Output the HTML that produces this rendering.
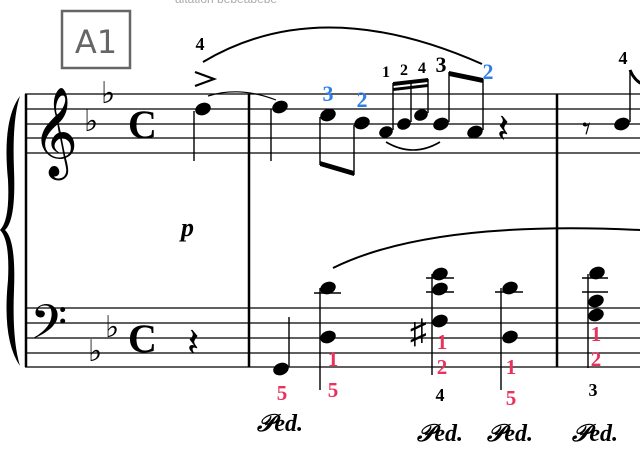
<!DOCTYPE html>
<html><head><style>body{margin:0;background:#fff}svg{display:block}</style></head><body>
<svg width="640" height="461" viewBox="0 0 640 461" xmlns="http://www.w3.org/2000/svg" font-family="Liberation Serif, serif">
<rect width="640" height="461" fill="#fff"/>
<text x="175" y="3" font-size="12" fill="#aaa" font-family="Liberation Sans, sans-serif">altation bebeabebe</text>
<rect x="62" y="11" width="68" height="57" fill="none" stroke="#666" stroke-width="2.5"/>
<text x="96" y="53" font-size="32" fill="#666" text-anchor="middle" font-family="DejaVu Sans, sans-serif">A1</text>
<g stroke="#000" stroke-width="1.3">
<line x1="25" y1="94" x2="640" y2="94"/><line x1="25" y1="109" x2="640" y2="109"/><line x1="25" y1="124" x2="640" y2="124"/><line x1="25" y1="138" x2="640" y2="138"/><line x1="25" y1="153" x2="640" y2="153"/>
<line x1="25" y1="308" x2="640" y2="308"/><line x1="25" y1="323" x2="640" y2="323"/><line x1="25" y1="338" x2="640" y2="338"/><line x1="25" y1="353" x2="640" y2="353"/><line x1="25" y1="367" x2="640" y2="367"/>
</g>
<g stroke="#000" stroke-width="2.5"><line x1="26" y1="94" x2="26" y2="367"/><line x1="249" y1="94" x2="249" y2="367"/><line x1="557" y1="94" x2="557" y2="367"/></g>
<path d="M20 96 Q2 120 8 180 Q10 220 0 230 Q10 240 8 280 Q2 340 20 366 Q12 340 14 290 Q16 240 5 230 Q16 220 14 170 Q12 120 20 96Z" fill="#000"/>
<text x="32" y="158" font-size="78">𝄞</text>
<text x="30" y="348" font-size="58">𝄢</text>
<g font-size="30"><text x="84" y="131">♭</text><text x="101" y="103">♭</text><text x="88" y="361">♭</text><text x="105" y="337">♭</text></g>
<g font-size="40" font-weight="bold"><text x="128" y="138">C</text><text x="128" y="352">C</text></g>
<g fill="#000">
<ellipse cx="203" cy="109" rx="8" ry="6" transform="rotate(-22 203 109)"/>
<ellipse cx="280" cy="107" rx="8" ry="6" transform="rotate(-22 280 107)"/>
<ellipse cx="328" cy="115" rx="8" ry="6" transform="rotate(-22 328 115)"/>
<ellipse cx="362" cy="123" rx="8" ry="6" transform="rotate(-22 362 123)"/>
<ellipse cx="386" cy="132" rx="7" ry="5.5" transform="rotate(-22 386 132)"/>
<ellipse cx="404" cy="124" rx="7" ry="5.5" transform="rotate(-22 404 124)"/>
<ellipse cx="421" cy="115" rx="7" ry="5.5" transform="rotate(-22 421 115)"/>
<ellipse cx="441" cy="124" rx="8" ry="6" transform="rotate(-22 441 124)"/>
<ellipse cx="475" cy="132" rx="8" ry="6" transform="rotate(-22 475 132)"/>
<ellipse cx="622" cy="124" rx="8" ry="6" transform="rotate(-22 622 124)"/>
<ellipse cx="281" cy="369" rx="8" ry="6" transform="rotate(-22 281 369)"/>
<ellipse cx="328" cy="337" rx="8" ry="6" transform="rotate(-22 328 337)"/>
<ellipse cx="328" cy="288" rx="8" ry="6" transform="rotate(-22 328 288)"/>
<ellipse cx="440" cy="274" rx="8" ry="6" transform="rotate(-22 440 274)"/>
<ellipse cx="440" cy="289" rx="8" ry="6" transform="rotate(-22 440 289)"/>
<ellipse cx="440" cy="321" rx="8" ry="6" transform="rotate(-22 440 321)"/>
<ellipse cx="510" cy="288" rx="8" ry="6" transform="rotate(-22 510 288)"/>
<ellipse cx="510" cy="337" rx="8" ry="6" transform="rotate(-22 510 337)"/>
<ellipse cx="597" cy="273" rx="8" ry="6" transform="rotate(-22 597 273)"/>
<ellipse cx="596" cy="301" rx="8" ry="6" transform="rotate(-22 596 301)"/>
<ellipse cx="596" cy="315" rx="8" ry="6" transform="rotate(-22 596 315)"/>
</g>
<g stroke="#000" stroke-width="1.4">
<line x1="194" y1="111" x2="194" y2="161"/><line x1="271" y1="109" x2="271" y2="161"/>
<line x1="320" y1="117" x2="320" y2="165"/><line x1="354" y1="125" x2="354" y2="175"/>
<line x1="393" y1="130" x2="393" y2="83"/><line x1="411" y1="122" x2="411" y2="81"/><line x1="428" y1="113" x2="428" y2="79"/>
<line x1="449" y1="122" x2="449" y2="72"/><line x1="483" y1="130" x2="483" y2="79"/>
<line x1="630" y1="122" x2="630" y2="70"/>
<line x1="289" y1="367" x2="289" y2="317"/>
<line x1="320" y1="288" x2="320" y2="390"/><line x1="432" y1="274" x2="432" y2="375"/><line x1="501" y1="288" x2="501" y2="390"/><line x1="588" y1="274" x2="588" y2="368"/>
<line x1="314" y1="293" x2="341" y2="293"/><line x1="426" y1="278" x2="454" y2="278"/><line x1="426" y1="292" x2="454" y2="292"/><line x1="495" y1="292" x2="523" y2="292"/><line x1="582" y1="278" x2="608" y2="278"/><line x1="582" y1="292" x2="608" y2="292"/>
</g>
<g fill="#000">
<polygon points="320,161 354,171 354,176 320,166"/>
<polygon points="393,82 428,78 428,82 393,86"/><polygon points="393,88 428,84 428,87 393,91"/>
<polygon points="449,71 483,78 483,83 449,76"/>
</g>
<path d="M630 70 Q634 80 642 84" stroke="#000" stroke-width="3" fill="none"/>
<path d="M203 62 Q320 -8 482 64" stroke="#000" stroke-width="2" fill="none"/>
<path d="M208 96 Q240 86 276 100" stroke="#000" stroke-width="1.2" fill="none"/>
<path d="M386 142 Q413 158 440 142" stroke="#000" stroke-width="1.6" fill="none"/>
<path d="M333 268 Q430 220 640 230" stroke="#000" stroke-width="2" fill="none"/>
<path d="M195 72 L214 79 L195 86" stroke="#000" stroke-width="2.2" fill="none"/>
<text x="497" y="142" font-size="40">𝄽</text><text x="187" y="356" font-size="40">𝄽</text>
<text x="582" y="140" font-size="34">𝄾</text>
<text x="410" y="343" font-size="34">♯</text>
<text x="181" y="236" font-size="26" font-weight="bold" font-style="italic">p</text>
<g font-weight="bold" text-anchor="middle">
<g font-size="18" fill="#000"><text x="200" y="50">4</text><text x="386" y="77" font-size="16">1</text><text x="404" y="75" font-size="16">2</text><text x="422" y="73" font-size="16">4</text><text x="441" y="72" font-size="22">3</text><text x="623" y="64">4</text><text x="440" y="401">4</text><text x="593" y="396">3</text></g>
<g font-size="22" fill="#2f7fe6"><text x="328" y="101">3</text><text x="362" y="107">2</text><text x="488" y="79">2</text></g>
<g font-size="21" fill="#e8335d"><text x="282" y="400">5</text><text x="333" y="366">1</text><text x="333" y="397">5</text><text x="442" y="349">1</text><text x="442" y="374">2</text><text x="511" y="374">1</text><text x="511" y="405">5</text><text x="596" y="341">1</text><text x="596" y="366">2</text></g>
</g>
<g font-size="24" font-style="italic" font-weight="bold" text-anchor="middle"><text x="280" y="431">𝒫ed.</text><text x="440" y="441">𝒫ed.</text><text x="510" y="441">𝒫ed.</text><text x="595" y="441">𝒫ed.</text></g>
</svg>
</body></html>
